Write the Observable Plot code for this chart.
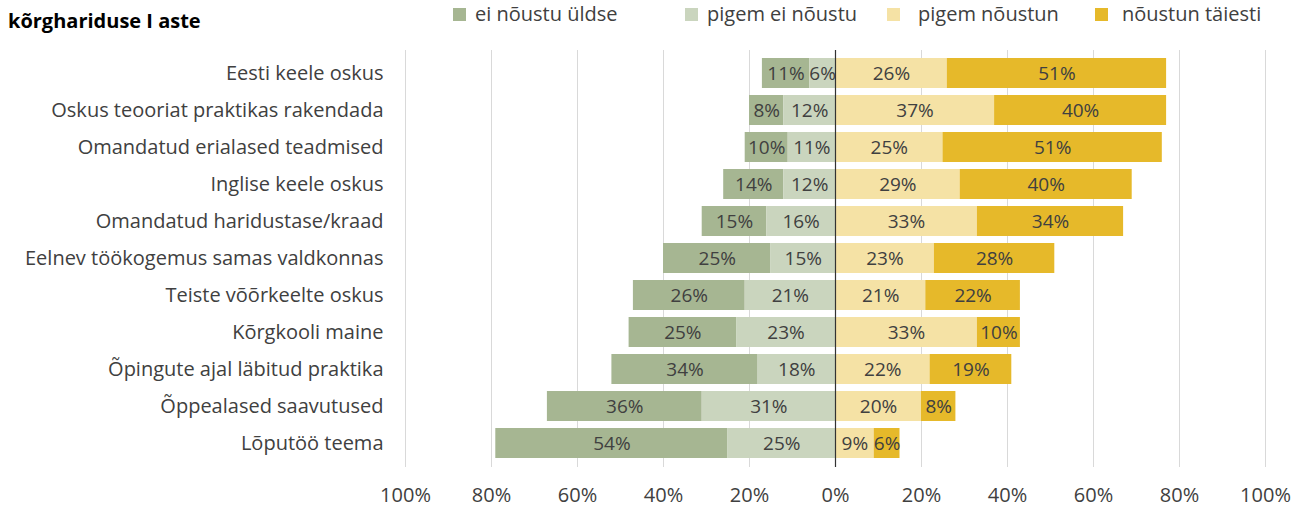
<!DOCTYPE html>
<html>
<head>
<meta charset="utf-8">
<script src="https://cdn.jsdelivr.net/npm/d3@7"></script>
<script src="https://cdn.jsdelivr.net/npm/@observablehq/plot@0.6"></script>
<style>
  html, body { margin: 0; padding: 0; background: #fff; }
  body { width: 1304px; height: 510px; overflow: hidden; font-family: "Open Sans", Lato, sans-serif; color: #404040; }
  #header { position: relative; height: 40px; }
  #title { position: absolute; left: 8px; top: 8px; font-weight: bold; font-size: 20px; color: #000; line-height: 26px; }
  .sw { position: absolute; top: 8px; width: 13px; height: 13px; }
  .lt { position: absolute; top: 1px; font-size: 20px; line-height: 26px; white-space: nowrap; }
  #chart svg { display: block; }
</style>
</head>
<body>
<div id="header">
  <div id="title"></div>
</div>
<div id="chart"></div>
<script>
const title = "kõrghariduse I aste";
const categories = [
  "Eesti keele oskus",
  "Oskus teooriat praktikas rakendada",
  "Omandatud erialased teadmised",
  "Inglise keele oskus",
  "Omandatud haridustase/kraad",
  "Eelnev töökogemus samas valdkonnas",
  "Teiste võõrkeelte oskus",
  "Kõrgkooli maine",
  "Õpingute ajal läbitud praktika",
  "Õppealased saavutused",
  "Lõputöö teema"
];
const seriesNames = ["ei nõustu üldse", "pigem ei nõustu", "pigem nõustun", "nõustun täiesti"];
const eiNoustuYldse = [11, 8, 10, 14, 15, 25, 26, 25, 34, 36, 54];
const pigemEiNoustu = [6, 12, 11, 12, 16, 15, 21, 23, 18, 31, 25];
const pigemNoustun  = [26, 37, 25, 29, 33, 23, 21, 33, 22, 20, 9];
const noustunTaiesti = [51, 40, 51, 40, 34, 28, 22, 10, 19, 8, 6];
const xTicks = [-100, -80, -60, -40, -20, 0, 20, 40, 60, 80, 100];
const colors = ["#a6b692", "#cad5be", "#f5e2a5", "#e6b92a"];

document.getElementById("title").textContent = title;

// legend
const swatchX = [453, 685, 887, 1095];
const textX = [475, 707, 918, 1122];
const header = document.getElementById("header");
seriesNames.forEach((s, i) => {
  const sw = document.createElement("div");
  sw.className = "sw";
  sw.style.left = swatchX[i] + "px";
  sw.style.background = colors[i];
  header.appendChild(sw);
  const t = document.createElement("div");
  t.className = "lt";
  t.style.left = textX[i] + "px";
  t.textContent = s;
  header.appendChild(t);
});

// build stacked table (diverging)
const rows = [];
categories.forEach((c, i) => {
  const a = eiNoustuYldse[i], b = pigemEiNoustu[i], p = pigemNoustun[i], t = noustunTaiesti[i];
  rows.push({cat: c, series: seriesNames[0], v: a, x1: -(a + b), x2: -b});
  rows.push({cat: c, series: seriesNames[1], v: b, x1: -b, x2: 0});
  rows.push({cat: c, series: seriesNames[2], v: p, x1: 0, x2: p});
  rows.push({cat: c, series: seriesNames[3], v: t, x1: p, x2: p + t});
});

const plot = Plot.plot({
  width: 1304,
  height: 470,
  marginLeft: 405,
  marginRight: 39,
  marginTop: 10,
  marginBottom: 43,
  style: {fontFamily: "'Open Sans', Lato, sans-serif", fontSize: "20px", color: "#404040", background: "#fff"},
  x: {domain: [-100, 100], label: null},
  y: {domain: categories, label: null, paddingInner: 0.18, paddingOuter: 0.09},
  color: {domain: seriesNames, range: colors},
  marks: [
    Plot.gridX(xTicks, {stroke: "#d9d9d9", strokeOpacity: 1, strokeWidth: 1}),
    Plot.barX(rows, {y: "cat", x1: "x1", x2: "x2", fill: "series"}),
    Plot.text(rows, {y: "cat", x: d => (d.x1 + d.x2) / 2, text: d => d.v + "%", fill: "#404040", fontSize: 19}),
    Plot.ruleX([0], {stroke: "#333", strokeWidth: 1.2}),
    Plot.axisX({ticks: xTicks, tickFormat: d => Math.abs(d) + "%", tickSize: 0, tickPadding: 20, fontSize: 20, fill: "#404040"}),
    Plot.axisY({tickSize: 0, tickPadding: 22, fontSize: 20, fill: "#404040"})
  ]
});
document.getElementById("chart").appendChild(plot);
</script>
</body>
</html>
